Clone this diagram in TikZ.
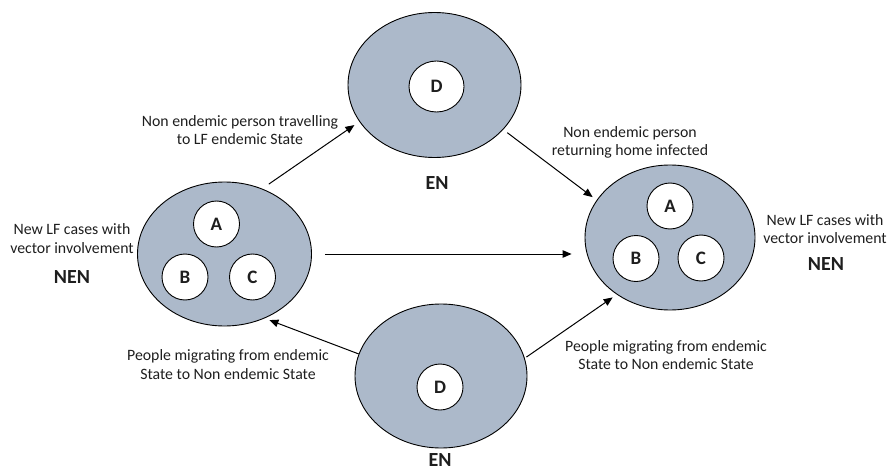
\documentclass[tikz,border=0pt]{standalone}
\usepackage{fontspec}
\setmainfont{Carlito}
\usepackage{xcolor}
\usetikzlibrary{positioning,arrows.meta,shapes.geometric}
\definecolor{region}{RGB}{172,185,202}
\definecolor{ink}{RGB}{30,30,30}
\tikzset{
  state/.style={ellipse, draw=black, line width=0.9pt, fill=region, inner sep=0pt},
  case/.style={circle, draw=black, line width=0.9pt, fill=white, inner sep=0pt, minimum size=46pt,
    font=\fontsize{19}{22}\selectfont\bfseries, text=ink},
  note/.style={align=center, text=ink, font=\fontsize{15.8}{18.5}\selectfont},
  tag/.style={text=ink, font=\fontsize{20}{24}\selectfont\bfseries},
  flow/.style={-{Triangle[length=9pt,width=7.5pt]}, line width=1pt, black}
}
\begin{document}
\begin{tikzpicture}[x=1pt,y=-1pt]
\useasboundingbox (0,0) rectangle (893,473);
% Endemic states
\node[state, minimum width=173pt, minimum height=145pt] (en_top) at (434.5,85) {};
\node[state, minimum width=172pt, minimum height=144pt] (en_bot) at (441,376) {};
% Non endemic states
\node[state, minimum width=174pt, minimum height=144pt] (nen_left) at (224.5,254) {};
\node[state, minimum width=170pt, minimum height=145pt] (nen_right) at (670,237.5) {};

% Cases
\node[case, ellipse, minimum width=55pt, minimum height=51pt] (d_top) at (436.5,86.5) {D};
\node[case] (d_bot) at (440,387) {D};
\node[case] (a_left) at (216.5,224) {A};
\node[case] (b_left) at (185,277) {B};
\node[case] (c_left) at (252.5,277) {C};
\node[case] (a_right) at (670,206) {A};
\node[case] (b_right) at (636,258.5) {B};
\node[case] (c_right) at (701,258) {C};

% Labels
\node[tag] (en_top_tag) at (437,183) {EN};
\node[tag, anchor=base, inner sep=0pt] (en_bot_tag) at (440,466) {EN};
\node[note] (left_note) at (72,238.5) {New LF cases with\\vector involvement};
\node[tag] (left_tag) at (72,277) {NEN};
\node[note] (right_note) at (825,229) {New LF cases with\\vector involvement};
\node[tag] (right_tag) at (826,264) {NEN};
\node[note] (travel_note) at (240,130) {Non endemic person travelling\\to LF endemic State};
\node[note] (return_note) at (630,142.5) {Non endemic person\\returning home infected};
\node[note] (migr_left_note) at (228,364.5) {People migrating from endemic\\State to Non endemic State};
\node[note] (migr_right_note) at (666,355) {People migrating from endemic\\State to Non endemic State};

% Flows
\draw[flow, shorten <=8pt, shorten >=6pt] (nen_left.60) -- (en_top.206);
\draw[flow, shorten <=5pt, shorten >=5pt] (en_top.-33) -- (nen_right.153);
\draw[flow, shorten <=13pt, shorten >=13pt] (nen_left.east) -- (nen_left.east -| nen_right.west);
\draw[flow, shorten >=5pt] (en_bot.165) -- (nen_left.302);
\draw[flow, shorten <=2pt, shorten >=5pt] (en_bot.12) -- (nen_right.227);
\end{tikzpicture}
\end{document}
